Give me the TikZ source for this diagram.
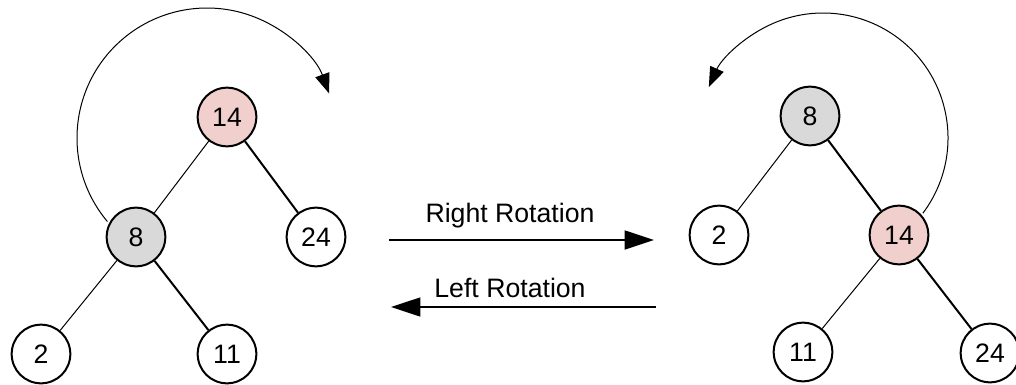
\documentclass[tikz,border=0pt]{standalone}
\usepackage{fontspec}
\setmainfont{Liberation Sans}
\usetikzlibrary{arrows.meta}
\definecolor{pinkfill}{HTML}{F0CFCC}
\definecolor{grayfill}{HTML}{D9D9D9}
\tikzset{
  tnode/.style={circle, draw=black, line width=1.5pt, fill=white, minimum size=44pt, inner sep=0pt, font=\fontsize{20}{24}\selectfont},
  pinknode/.style={tnode, fill=pinkfill},
  graynode/.style={tnode, fill=grayfill},
  thinedge/.style={draw=black, line width=0.75pt},
  thickedge/.style={draw=black, line width=1.5pt},
  bigarrow/.style={draw=black, line width=1.9pt, -{Triangle[length=22pt, width=14pt]}},
  curvarrow/.style={draw=black, line width=0.75pt, -{Triangle[length=15pt, width=11pt]}},
  lbl/.style={font=\fontsize{20}{24}\selectfont, inner sep=0pt}
}
\begin{document}
\begin{tikzpicture}[x=0.75pt, y=-0.75pt]
\useasboundingbox (0,0) rectangle (1016,385);
% left tree
\node[pinknode] (l14) at (227,117) {14};
\node[graynode] (l8) at (136,237) {8};
\node[tnode] (l24) at (316,237) {24};
\node[tnode] (l2) at (41,354) {2};
\node[tnode] (l11) at (227,354) {11};
\draw[thinedge] (l14) -- (l8);
\draw[thickedge] (l14) -- (l24);
\draw[thinedge] (l8) -- (l2);
\draw[thickedge] (l8) -- (l11);
% right tree
\node[graynode] (r8) at (810,116) {8};
\node[tnode] (r2) at (719,235) {2};
\node[pinknode] (r14) at (899,235) {14};
\node[tnode] (r11) at (803,352) {11};
\node[tnode] (r24) at (990,353) {24};
\draw[thinedge] (r8) -- (r2);
\draw[thickedge] (r8) -- (r14);
\draw[thinedge] (r14) -- (r11);
\draw[thickedge] (r14) -- (r24);
% curved arrows
\coordinate (la) at ([shift={(140:130)}]207,138);
\draw[curvarrow] (la) arc[start angle=140, end angle=340, radius=130];
\coordinate (ra) at ([shift={(37:125)}]823,138);
\draw[curvarrow] (ra) arc[start angle=37, end angle=-156, radius=125];
% straight arrows
\coordinate (rs) at (389,240);
\coordinate (re) at (654,240);
\coordinate (ls) at (656,307);
\coordinate (le) at (391,307);
\draw[bigarrow] (rs) -- (re);
\draw[bigarrow] (ls) -- (le);
\node[lbl] (rl) at (510,216) {Right Rotation};
\node[lbl] (ll) at (510,288) {Left Rotation};
\end{tikzpicture}
\end{document}
